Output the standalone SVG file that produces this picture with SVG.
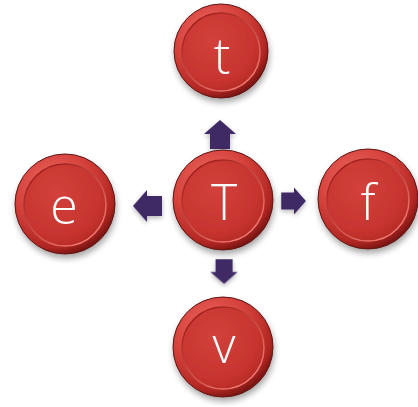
<svg xmlns="http://www.w3.org/2000/svg" width="418" height="407" viewBox="0 0 418 407">
  <defs>
    <radialGradient id="rim" cx="0.38" cy="0.32" r="0.72">
      <stop offset="0" stop-color="#ee6a64"/>
      <stop offset="0.55" stop-color="#d4403a"/>
      <stop offset="0.85" stop-color="#b02622"/>
      <stop offset="1" stop-color="#6e1210"/>
    </radialGradient>
    <radialGradient id="face" cx="0.4" cy="0.35" r="0.75">
      <stop offset="0" stop-color="#d3413b"/>
      <stop offset="0.7" stop-color="#c7342f"/>
      <stop offset="1" stop-color="#b02723"/>
    </radialGradient>
    <linearGradient id="bevel" x1="0.2" y1="0.1" x2="0.8" y2="0.9">
      <stop offset="0" stop-color="#9e1f1b"/>
      <stop offset="1" stop-color="#ef7a72"/>
    </linearGradient>
    <filter id="shadow" x="-30%" y="-30%" width="160%" height="170%">
      <feGaussianBlur in="SourceAlpha" stdDeviation="3"/>
      <feOffset dx="1" dy="4" result="b"/>
      <feComponentTransfer><feFuncA type="linear" slope="0.35"/></feComponentTransfer>
      <feMerge><feMergeNode/><feMergeNode in="SourceGraphic"/></feMerge>
    </filter>
    <filter id="ashadow" x="-50%" y="-50%" width="200%" height="200%">
      <feGaussianBlur in="SourceAlpha" stdDeviation="2.5"/>
      <feOffset dx="0" dy="2"/>
      <feComponentTransfer><feFuncA type="linear" slope="0.3"/></feComponentTransfer>
      <feMerge><feMergeNode/><feMergeNode in="SourceGraphic"/></feMerge>
    </filter>
    <path id="arrow" d="M-15,-10 H0 V-16 L14,0 L0,16 V10 H-15 Z"/>
  </defs>
  <style>
    .rim { fill: url(#rim); stroke: #5e1412; stroke-width: 1; }
    .face { fill: url(#face); stroke: url(#bevel); stroke-width: 1.5; }
    .lbl { font-family: "Open Sans", "Liberation Sans", sans-serif; font-weight: 300; font-size: 50px; fill: #ffffff; text-anchor: middle; }
    .arr { fill: #3f2c66; }
  </style>
  <rect width="418" height="407" fill="#ffffff"/>

  <g id="connectors" filter="url(#ashadow)">
    <use href="#arrow" class="arr" transform="translate(147,206) rotate(180)"/>
    <use href="#arrow" class="arr" transform="translate(220,134) rotate(-90)"/>
    <use href="#arrow" class="arr" transform="translate(294,201) scale(0.85)"/>
    <use href="#arrow" class="arr" transform="translate(224,272) rotate(90) scale(0.85)"/>
  </g>

  <g id="node-top" filter="url(#shadow)">
    <circle class="rim" cx="221" cy="51" r="47"/>
    <circle class="face" cx="221" cy="52" r="39"/>
    <text class="lbl" x="222" y="74">t</text>
  </g>
  <g id="node-center" filter="url(#shadow)">
    <circle class="rim" cx="223" cy="200" r="50"/>
    <circle class="face" cx="223" cy="201" r="41"/>
    <text class="lbl" x="224" y="220">T</text>
  </g>
  <g id="node-left" filter="url(#shadow)">
    <circle class="rim" cx="65" cy="204" r="50"/>
    <circle class="face" cx="65" cy="205" r="41"/>
    <text class="lbl" x="64" y="224">e</text>
  </g>
  <g id="node-right" filter="url(#shadow)">
    <circle class="rim" cx="368" cy="199" r="50"/>
    <circle class="face" cx="368" cy="200" r="41"/>
    <text class="lbl" x="368" y="220">f</text>
  </g>
  <g id="node-bottom" filter="url(#shadow)">
    <circle class="rim" cx="223" cy="347" r="50"/>
    <circle class="face" cx="223" cy="348" r="41"/>
    <text class="lbl" x="224" y="363">v</text>
  </g>
</svg>
